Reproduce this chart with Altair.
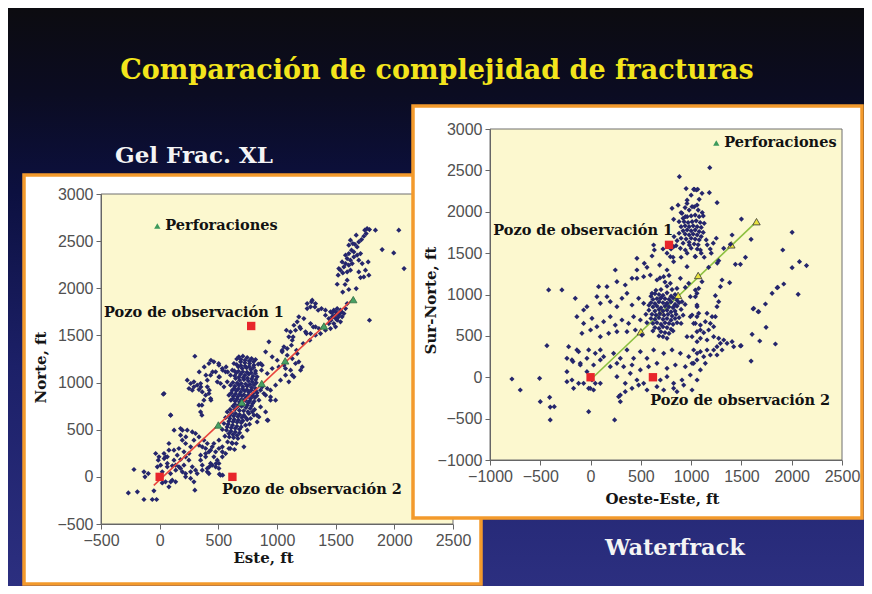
import altair as alt
import pandas as pd

W, H = 856, 578

# ---------------- texts ----------------
slide_title = "Comparación de complejidad de fracturas"
left_caption = "Gel Frac. XL"
right_caption = "Waterfrack"
legend_label = "Perforaciones"
well_labels = ["Pozo de observación 1", "Pozo de observación 2"]

# ---------------- axis ticks ----------------
left_x_ticks = [-500, 0, 500, 1000, 1500, 2000, 2500]
left_y_ticks = [-500, 0, 500, 1000, 1500, 2000, 2500, 3000]
right_x_ticks = [-1000, -500, 0, 500, 1000, 1500, 2000, 2500]
right_y_ticks = [-1000, -500, 0, 500, 1000, 1500, 2000, 2500, 3000]

# ---------------- wells / perforations ----------------
perf_x = [500, 700, 870, 1070, 1400, 1650]
perf_y = [550, 790, 990, 1230, 1600, 1880]
wells_x = [0, 620, 780]
wells_y = [0, 0, 1600]
left_frac_x = [-50, 1650]
left_frac_y = [-90, 1890]
right_frac_x = [0, 1650]
right_frac_y = [-30, 1880]
left_legend_x, left_legend_y = [-20], [2660]
right_legend_x, right_legend_y = [1250], [2830]
left_label_x, left_label_y = [-474, 531], [1736, -141]
right_label_x, right_label_y = [-968, 594], [1767, -287]

# ---------------- microseismic events: Gel Frac. XL ----------------
left_lower = [(-267,-170),(-190,-159),(-134,-240),(-63,-240),(-26,-240),(-219,78),(-134,53),(-125,0),(-97,35),
(-49,-148),(22,-64),(50,-53),(79,-106),(107,-35),(136,-53),(-12,177),(38,194),(51,212),(-20,106),(8,124),(65,142),
(108,117),(79,283),(150,230),(178,184),(207,124),(221,212),(249,177),(278,106),(164,106),(193,53),(221,35),(264,53),
(306,71),(363,124),(292,-53),(406,53),(420,35),(519,18),(193,389),(221,354),(264,318),(178,442),(292,389),(335,336),
(363,318),(392,301),(420,265),(335,424),(377,389),(406,354),(448,318),(477,265),(235,495),(278,477),(306,460),
(462,212),(491,177),(505,142),(534,212),(562,247),(590,301),(619,354),(349,230),(392,212),(434,142),(477,106),
(93,654),(178,513),(37,884),(-34,248),(-6,212),(37,248),(65,212),(122,177),(136,124),(178,89),(221,0),(264,-17),
(320,35),(363,71),(406,89),(448,124),(505,89),(349,177),(392,248),(434,283),(462,354),(505,301),(534,265),(250,248),
(207,265),(164,301),(122,283),(79,354),(22,53),(93,35),(65,106),(300,-141),(509,28),(537,18),(137,71),(94,-53),
(480,141),(423,106)]

left_mid = [(235,1025),(264,990),(292,1008),(320,972),(349,990),(250,937),(278,919),(335,926),(363,901),(392,866),
(420,884),(434,831),(377,813),(335,760),(349,689),(292,955),(406,955),(420,1202),(462,1220),(505,1184),(534,1149),
(477,1114),(434,1078),(562,1114),(505,1060),(406,1025),(491,1008),(604,1078),(576,1008),(548,955),(519,990),
(300,1279),(437,1237),(503,1202),(537,1131),(566,1166),(380,1166),(337,1113),(394,1078),(451,1113),(509,1060),
(580,1113),(351,954),(423,919),(437,813),(360,760),(31,876),(94,654),(123,495),(194,495),(223,424),(360,654)]

left_core = [(675,1273),(709,1280),(746,1266),(783,1255),(817,1244),(690,1220),(726,1209),(766,1202),(803,1184),
(840,1195),(670,1167),(704,1149),(741,1156),(778,1138),(817,1124),(653,1103),(690,1089),(726,1078),(760,1089),
(795,1068),(831,1061),(868,1131),(860,1202),(647,1043),(681,1025),(718,1032),(755,1018),(789,1008),(823,997),
(633,1202),(619,1131),(604,972),(641,962),(675,972),(709,955),(746,962),(783,947),(817,937),(619,919),(653,912),
(690,901),(726,912),(760,898),(797,884),(831,891),(590,866),(627,856),(664,849),(701,859),(738,841),(775,831),
(812,841),(607,813),(644,802),(681,795),(718,813),(755,785),(792,778),(624,749),(661,742),(698,749),(735,735),
(772,725),(809,714),(846,813),(860,919),(576,689),(613,679),(647,672),(681,661),(718,654),(562,629),(599,619),
(636,608),(672,601),(709,594),(746,608),(548,566),(584,559),(621,548),(658,537),(695,530),(732,548),(534,502),
(570,495),(607,484),(644,477),(681,467),(556,431),(593,424),(630,417),(667,407),(579,371),(616,361),(653,354),
(602,301),(638,290),(534,318),(505,389),(760,672),(775,619),(746,495),(704,424),(718,318),(766,559),(803,654),
(874,955),(917,937),(903,866),(945,813),(860,742),(903,689),(846,636),(917,601),(831,583),(923,600),(829,654),
(657,1250),(692,1245),(728,1238),(764,1230),(800,1222),(657,1190),(692,1180),(728,1175),(764,1170),(800,1160),
(636,1125),(672,1120),(708,1115),(744,1110),(780,1105),(816,1098),(640,1070),(676,1058),(712,1052),(748,1048),
(784,1040),(818,1030),(624,1000),(660,995),(696,990),(732,985),(768,980),(804,975),(636,940),(672,935),(708,930),
(744,925),(780,920),(816,915),(610,890),(646,880),(682,875),(718,870),(754,865),(790,860),(828,860),(625,830),
(660,825),(696,820),(732,812),(768,805),(805,800),(640,770),(676,765),(712,770),(748,760),(784,752),(600,715),
(640,715),(680,705),(716,700),(752,690),(790,690),(595,650),(630,645),(665,640),(700,630),(735,628),(590,590),
(625,585),(660,580),(695,575),(575,530),(610,520),(645,515),(680,505),(590,460),(625,450),(660,440)]

left_band = [(1300,1874),(1328,1838),(1286,1803),(1257,1785),(1379,1785),(1413,1768),(1456,1750),(1484,1768),
(1513,1785),(1541,1768),(1527,1732),(1498,1714),(1470,1697),(1442,1679),(1413,1714),(1555,1697),(1513,1661),
(1484,1626),(1442,1626),(1399,1591),(1357,1573),(1328,1591),(1286,1626),(1229,1679),(1186,1697),(1172,1644),
(1144,1608),(1115,1538),(1158,1555),(1201,1573),(1243,1538),(1286,1520),(1328,1502),(1371,1520),(1413,1555),
(1456,1573),(1499,1591),(1541,1644),(1570,1732),(1584,1785),(1598,1838),(1101,1485),(1130,1449),(1059,1379),
(1087,1361),(1044,1326),(1172,1308),(1215,1166),(1130,1078),(1073,1149),(1080,1555),(1137,1484),(1194,1590),
(1223,1414),(1280,1449),(1251,1520),(1309,1590),(1166,1343),(1123,1396),(1257,1838),(1294,1855),(1323,1802),
(1351,1767),(931,1432),(903,1326),(959,1273),(1002,1237),(1044,1343),(1087,1290),(1130,1255),(1158,1202),
(1201,1131),(1116,1131),(1073,1078),(1030,1025),(988,972),(945,919),(917,1096),(959,1149),(874,1184),(1016,1166),
(1059,1184),(1144,1061),(1101,1008),(1186,1220),(945,848),(988,813),(888,884),(1470,1740),(1500,1750),(1530,1720),
(1480,1700),(1520,1690),(1550,1750),(1460,1660),(1500,1680)]

left_arm = [(1748,2616),(1768,2633),(1788,2623),(1839,2616),(1760,2580),(1740,2552),(1720,2517),(1697,2492),
(1675,2563),(1663,2467),(1683,2439),(1646,2474),(1626,2510),(1612,2457),(1635,2404),(1655,2386),(1612,2368),
(1584,2351),(1598,2315),(1626,2298),(1655,2333),(1683,2351),(1712,2368),(1697,2298),(1641,2262),(1612,2245),
(1584,2262),(1555,2280),(1570,2227),(1541,2192),(1527,2209),(1521,2139),(1561,2163),(1598,2174),(1626,2192),
(1726,2262),(1777,2280),(1754,2192),(1740,2121),(1712,2114),(1783,2139),(1697,2174),(1675,1997),(1513,2043),
(1598,2086),(2038,2616),(1896,2411),(1995,2375),(2083,2209),(1788,1661),(1612,1987),(1560,1960),(1580,2040)]

# ---------------- microseismic events: Waterfrack ----------------
right_outer = [(-782,-21),(-699,-154),(-507,-13),(-500,-295),(-407,-243),(-401,-361),(-361,-355),(-401,-516),
(-19,-416),(239,-516),(-434,382),(-417,1055),(-285,1055),(1185,2533),(883,2424),(1032,2271),(1051,2263),
(1108,2223),(1181,2231),(1258,2110),(2004,1751),(1911,1538),(2004,1324),(2077,1397),(2147,1349),(2064,1002),
(1921,1127),(1855,1083),(1805,1014),(1739,885),(1666,793),(1616,825),(1745,603),(1682,438),(1838,402),(1606,519),
(1596,196),(1497,382),(1500,1912),(1596,1667),(1540,1449),(1490,1365),(1440,1365),(1407,1719),(1324,1558),
(1390,1606),(1274,1409),(1291,1094),(1307,1175),(1383,1143),(1174,1328),(1075,1074),(1241,986),(1274,913),
(1257,853),(1241,732),(1058,1014),(1622,833),(1672,792),(1861,1086),(279,-235),(296,-295),(-235,229),(-175,189),
(-119,309),(-102,148),(-36,229),(-169,-134),(-235,-53),(-69,-73),(-3,-134),(47,-73)]

right_upper = [(900,1990),(940,2050),(980,2020),(1030,2060),(1070,2020),(1110,1990),(1120,1950),(1080,1940),
(1040,1960),(1000,1950),(960,1940),(920,1920),(880,1880),(930,1880),(970,1870),(1010,1880),(1050,1890),(1090,1870),
(1130,1860),(900,1820),(940,1830),(980,1820),(1020,1830),(1060,1820),(1100,1810),(920,1770),(960,1780),(1000,1770),
(1040,1780),(1080,1760),(1120,1750),(880,1740),(940,1730),(980,1720),(1020,1730),(1060,1720),(1100,1700),(900,1680),
(950,1670),(1000,1680),(1040,1670),(1080,1660),(920,1620),(980,1630),(1030,1610),(1070,1600),(1150,1660),(1160,1600),
(860,1650),(850,1590),(1000,1560),(1060,1550),(870,2080),(960,2140),(1000,2200),(1080,2150),(950,2280),(1100,1500),
(1190,1550),(1220,1620),(1250,1680),(830,1700),(800,1550),(760,1500),(820,1450),(900,1450),(960,1500),(1040,1460),
(1130,1450),(1200,1500),(1260,1380)]

right_core = [(600,980),(640,1010),(680,1000),(720,990),(760,1020),(800,980),(840,1000),(620,940),(660,950),
(700,960),(740,950),(780,940),(820,960),(860,930),(600,900),(640,890),(680,910),(720,900),(760,890),(800,910),
(840,880),(880,900),(620,850),(660,860),(700,840),(740,860),(780,850),(820,840),(860,860),(580,810),(640,800),
(680,820),(720,800),(760,810),(800,790),(840,800),(900,820),(610,760),(650,750),(690,770),(730,750),(770,760),
(810,740),(850,760),(600,710),(640,700),(680,720),(720,700),(760,710),(800,690),(840,710),(880,720),(620,650),
(660,660),(700,640),(740,660),(780,650),(820,640),(860,660),(640,600),(680,590),(720,610),(760,600),(800,580),
(700,550),(740,540),(780,530),(720,490),(760,470),(680,500),(820,560),(620,560),(900,650),(920,750),(940,880),
(560,660),(550,760),(580,870),(700,1060),(760,1100),(810,1060),(650,1050),(740,1150),(690,1200),(780,1230)]

right_rows = [(1025,2271),(1065,2271),(959,2101),(1009,2061),(1059,2081),(810,2041),(826,1908),(909,1981),
(942,1940),(627,1598),(634,1538),(720,1550),(793,1457),(826,1578),(893,1558),(942,1538),(982,1598),(1042,1457),
(1092,1538),(461,1437),(534,1377),(611,1465),(687,1356),(760,1296),(826,1397),(959,1336),(461,1296),(561,1328),
(80,1094),(163,1094),(246,1296),(262,1155),(345,1115),(412,1195),(461,1195),(528,1215),(594,1235),(660,1175),
(727,1215),(793,1135),(893,1195),(976,1135),(1042,1054),(1108,1155),(859,1074),(942,1086),(-36,853),(63,974),
(97,893),(163,974),(196,913),(262,853),(312,954),(362,1014),(412,873),(478,954),(528,893),(611,1014),(694,954),
(760,893),(826,853),(909,913),(992,974),(1059,853),(-152,954),(-69,813),(-136,732),(-69,651),(14,712),(63,611),
(130,672),(196,732),(246,631),(312,692),(378,651),(428,732),(495,692),(-86,531),(0,571),(97,490),(180,531),
(262,551),(362,551),(445,571),(511,510),(992,732),(1042,651),(1092,571),(959,490),(1059,430),(-218,370),(-136,330),
(-19,330),(47,289),(97,330),(130,249),(229,289),(296,229),(362,330),(428,229),(495,309),(561,229),(627,330),
(727,289),(810,330),(893,289),(976,249),(1059,289),(-185,209),(-102,168),(30,148),(97,209),(196,128),(262,168),
(329,128),(412,148),(495,88),(577,128),(660,168),(760,108),(843,148),(942,128),(1025,168),(1092,88),(-235,67),
(-185,-33),(-119,-74),(-36,67),(14,-33),(97,-74),(262,7),(345,-74),(395,47),(461,-33),(528,-74),(694,-33),(760,7),
(826,-74),(909,-33),(992,27),(1059,-33),(-19,-134),(30,-154),(296,-215),(345,-174),(412,-134),(478,-94),
(561,-154),(660,-114),(727,-154),(826,-134),(859,-174),(926,-94),(1009,-154)]

right_lower_right = [(1009,752),(1058,732),(1025,651),(1092,631),(1141,672),(1191,651),(1224,611),(1174,571),
(1125,539),(1058,551),(1009,490),(1092,470),(1158,450),(1224,490),(1274,470),(1324,450),(1291,410),(1357,410),
(1407,430),(1257,370),(1307,329),(1224,329),(1158,329),(1092,309),(1025,329),(1125,249),(1191,269),(1257,269),
(1058,209),(1141,168),(1009,168),(1423,370),(1490,378),(1208,732),(1158,772),(1075,772),(1058,873),(1042,974)]


def to_df(groups):
    rows = [p for g in groups for p in g]
    return pd.DataFrame({"x": [p[0] for p in rows], "y": [p[1] for p in rows]})


left_events = to_df([left_lower, left_mid, left_core, left_band, left_arm])
right_events = to_df([right_outer, right_upper, right_core, right_rows, right_lower_right])

SERIF = "DejaVu Serif"
SANS = "Liberation Sans"
NAVY = "#25266c"
ORANGE = "#f39a2c"


def box(x0, x1, y0, y1):
    return alt.Chart(pd.DataFrame({"k": [0]})).mark_rect(
        fill="white", stroke=ORANGE, strokeWidth=3.5
    ).encode(x=alt.value(x0), x2=alt.value(x1), y=alt.value(y0), y2=alt.value(y1))


def panel(events, xdom, ydom, xr, yr, xticks, yticks, xtitle, ytitle, xtitle_pos, ytitle_pos,
          frac_x, frac_y, frac_color, tri_fill, tri_stroke, tri_below, leg_x, leg_y, lab_x, lab_y):
    """Returns a flat list of unit charts sharing identical explicit scales."""
    def xs():
        return alt.Scale(domain=xdom, range=xr, nice=False, zero=False)

    def ys():
        return alt.Scale(domain=ydom, range=yr, nice=False, zero=False)

    common = dict(grid=False, zindex=1, format="d", labelFont=SANS, labelFontSize=16, labelColor="#505050",
                  tickColor="#666666", domainColor="#666666", tickSize=5, labelFlush=False,
                  labelOverlap=False, titleFont=SERIF, titleFontSize=15, titleFontWeight="bold",
                  titleColor="#151515")
    xaxis = alt.Axis(orient="bottom", offset=yr[0] - H, values=xticks, title=xtitle, labelPadding=3,
                     titleX=xtitle_pos[0], titleY=xtitle_pos[1], titleBaseline="middle",
                     titleAlign="center", **common)
    yaxis = alt.Axis(orient="left", offset=-xr[0], values=yticks, title=ytitle, labelPadding=3,
                     titleX=ytitle_pos[0], titleY=ytitle_pos[1], titleBaseline="middle",
                     titleAlign="center", titleAngle=270, **common)

    def X(f="x", axis=None):
        return alt.X(f"{f}:Q", scale=xs(), axis=axis)

    def Y(f="y", axis=None):
        return alt.Y(f"{f}:Q", scale=ys(), axis=axis)

    frame = alt.Chart(pd.DataFrame({"x0": [xdom[0]], "x1": [xdom[1]], "y0": [ydom[0]], "y1": [ydom[1]]})).mark_rect(
        fill="#fcf8cf", stroke="#6e6e6e", strokeWidth=1
    ).encode(x=X("x0", xaxis), x2="x1", y=Y("y0", yaxis), y2="y1")

    pts = alt.Chart(events).mark_point(shape="diamond", filled=True, size=27, color=NAVY, opacity=1).encode(
        x=X(), y=Y())

    frac = alt.Chart(pd.DataFrame({"x": frac_x, "y": frac_y})).mark_line(
        color=frac_color, strokeWidth=1.6).encode(x=X(), y=Y())

    tri = alt.Chart(pd.DataFrame({"x": perf_x, "y": perf_y})).mark_point(
        shape="triangle-up", filled=True, size=55, fill=tri_fill, stroke=tri_stroke, strokeWidth=0.8,
        opacity=1).encode(x=X(), y=Y())

    wells = alt.Chart(pd.DataFrame({"x": wells_x, "y": wells_y})).mark_square(
        size=70, color="#e8262b", opacity=1).encode(x=X(), y=Y())

    labels = alt.Chart(pd.DataFrame({"x": lab_x, "y": lab_y, "t": well_labels})).mark_text(
        align="left", baseline="middle", font=SERIF, fontWeight="bold", fontSize=14.5, color="#121212"
    ).encode(x=X(), y=Y(), text="t:N")

    leg_tri = alt.Chart(pd.DataFrame({"x": leg_x, "y": leg_y})).mark_point(
        shape="triangle-up", filled=True, size=40, color="#3d9a5c", opacity=1).encode(x=X(), y=Y())
    leg_txt = alt.Chart(pd.DataFrame({"x": leg_x, "y": leg_y, "t": [legend_label]})).mark_text(
        align="left", baseline="middle", dx=8, font=SERIF, fontWeight="bold", fontSize=14.5, color="#121212"
    ).encode(x=X(), y=Y(), text="t:N")

    if tri_below:
        return [frame, frac, tri, pts, wells, labels, leg_tri, leg_txt]
    return [frame, pts, frac, tri, wells, labels, leg_tri, leg_txt]


left_layers = panel(left_events, [-500, 2500], [-500, 3000], [93, 445], [516, 186],
                    left_x_ticks, left_y_ticks, "Este, ft", "Norte, ft", (255, 33), (-61, 359),
                    left_frac_x, left_frac_y, "#e8473e", "#47a163", "#2f6e45", False,
                    left_legend_x, left_legend_y, left_label_x, left_label_y)

right_layers = panel(right_events, [-1000, 2500], [-1000, 3000], [482, 834], [452, 121],
                     right_x_ticks, right_y_ticks, "Oeste-Este, ft", "Sur-Norte, ft", (654, 38), (-60, 292),
                     right_frac_x, right_frac_y, "#8cc040", "#e8e23e", "#333333", True,
                     right_legend_x, right_legend_y, right_label_x, right_label_y)

bg = alt.Chart(pd.DataFrame({"k": [0]})).mark_rect(
    fill=alt.LinearGradient(
        gradient="linear",
        stops=[alt.GradientStop(color="#0c0c10", offset=0),
               alt.GradientStop(color="#0b0c22", offset=0.15),
               alt.GradientStop(color="#0c1040", offset=0.32),
               alt.GradientStop(color="#1c2068", offset=0.62),
               alt.GradientStop(color="#2c2f80", offset=1)],
        x1=0, x2=0, y1=0, y2=1)
).encode(x=alt.value(0), x2=alt.value(W), y=alt.value(0), y2=alt.value(H))


def slide_text(txt, x, y, size, color):
    return alt.Chart(pd.DataFrame({"t": [txt]})).mark_text(
        align="center", baseline="alphabetic", font=SERIF, fontWeight="bold", fontSize=size, color=color
    ).encode(x=alt.value(x), y=alt.value(y), text="t:N")


title = slide_text(slide_title, 429, 71, 27, "#f3e51c")
cap_left = slide_text(left_caption, 186, 155, 23, "#f4f4f4")
cap_right = slide_text(right_caption, 667, 547, 22.5, "#f4f4f4")

chart = alt.layer(
    bg, title, cap_left, cap_right,
    box(16, 473, 167, 576), *left_layers,
    box(405, 854, 98, 510), *right_layers,
).resolve_scale(x="independent", y="independent").properties(
    width=W, height=H, autosize=alt.AutoSizeParams(type="none"), padding=0
).configure_view(stroke=None)

chart.save("out.html", embed_options={"renderer": "svg", "actions": False})
